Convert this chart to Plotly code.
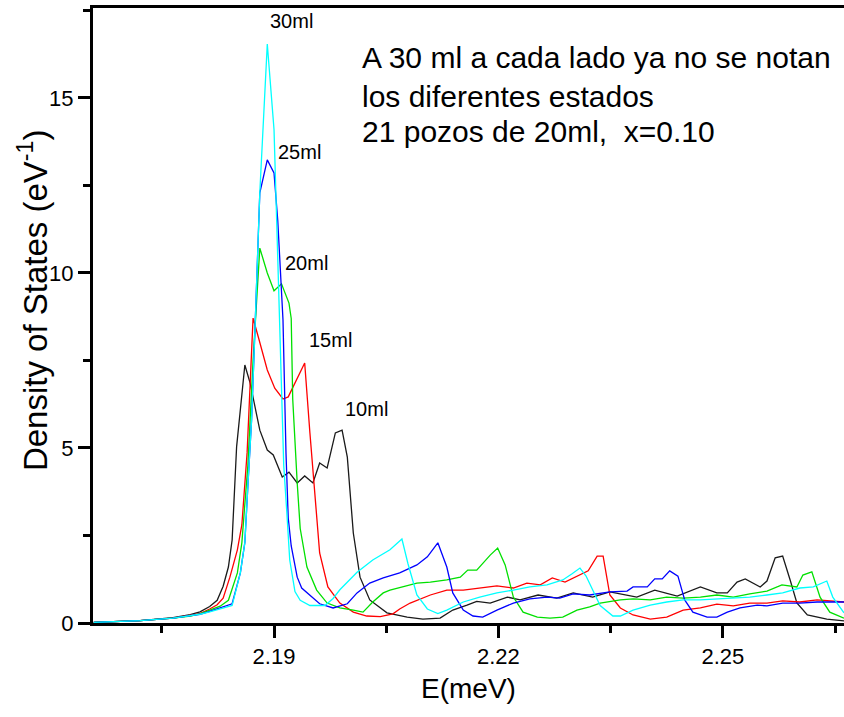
import plotly.graph_objects as go

# ---- data (E in meV, DOS in eV^-1) ----
E_10 = [2.1659, 2.1721, 2.1765, 2.1788, 2.1801, 2.1814, 2.1824, 2.1832, 2.1839, 2.1844,
        2.1850, 2.1861, 2.1868, 2.1875, 2.1881, 2.1891, 2.1899, 2.1911, 2.1920, 2.1931,
        2.1941, 2.1952, 2.1961, 2.1971, 2.1982, 2.1991, 2.1998, 2.2006, 2.2015, 2.2028,
        2.2051, 2.2078, 2.2099, 2.2122, 2.2139, 2.2158, 2.2171, 2.2189, 2.2212, 2.2229,
        2.2253, 2.2278, 2.2300, 2.2326, 2.2349, 2.2385, 2.2409, 2.2439, 2.2470, 2.2492,
        2.2506, 2.2519, 2.2530, 2.2550, 2.2559, 2.2570, 2.2580, 2.2590, 2.2599, 2.2613,
        2.2639, 2.2662]
DOS_10 = [0.02, 0.07, 0.15, 0.24, 0.32, 0.47, 0.65, 1.05, 1.6, 2.37,
          5.04, 7.37, 6.86, 6.17, 5.51, 4.94, 4.8, 4.17, 4.31, 4.0,
          4.2, 4.0, 4.57, 4.43, 5.43, 5.51, 4.74, 2.57, 1.31, 0.66,
          0.29, 0.17, 0.11, 0.14, 0.37, 0.51, 0.62, 0.57, 0.74, 0.66,
          0.8, 0.71, 0.86, 0.74, 0.89, 0.74, 0.94, 0.77, 1.03, 0.86,
          0.86, 1.17, 1.26, 1.03, 1.2, 1.86, 1.91, 1.23, 0.57, 0.23,
          0.11, 0.06]

E_15 = [2.1659, 2.1721, 2.1765, 2.1788, 2.1801, 2.1814, 2.1824, 2.1832, 2.1841, 2.1851,
        2.1857, 2.1864, 2.1872, 2.1879, 2.1891, 2.1901, 2.1912, 2.1919, 2.1928, 2.1941,
        2.1948, 2.1955, 2.1961, 2.1972, 2.1988, 2.2006, 2.2024, 2.2042, 2.2059, 2.2068,
        2.2082, 2.2109, 2.2131, 2.2153, 2.2175, 2.2198, 2.2220, 2.2238, 2.2256, 2.2272,
        2.2289, 2.2320, 2.2332, 2.2340, 2.2349, 2.2363, 2.2380, 2.2403, 2.2425, 2.2447,
        2.2470, 2.2492, 2.2514, 2.2536, 2.2559, 2.2580, 2.2603, 2.2626, 2.2662]
DOS_15 = [0.02, 0.07, 0.14, 0.21, 0.27, 0.4, 0.52, 0.71, 1.31, 2.09,
          2.8, 4.86, 8.71, 8.17, 7.23, 6.71, 6.4, 6.46, 6.86, 7.43,
          5.43, 3.51, 2.0, 1.03, 0.57, 0.31, 0.2, 0.18, 0.26, 0.4,
          0.57, 0.8, 0.94, 0.94, 1.0, 1.06, 1.0, 1.14, 1.09, 1.29,
          1.17, 1.49, 1.91, 1.91, 0.8, 0.43, 0.23, 0.11, 0.17, 0.37,
          0.43, 0.54, 0.49, 0.57, 0.57, 0.63, 0.6, 0.66, 0.6]

E_20 = [2.1659, 2.1721, 2.1765, 2.1788, 2.1801, 2.1814, 2.1828, 2.1839, 2.1851, 2.1857,
        2.1865, 2.1872, 2.1881, 2.1891, 2.1900, 2.1910, 2.1920, 2.1923, 2.1925, 2.1931,
        2.1935, 2.1944, 2.1957, 2.1971, 2.1988, 2.2006, 2.2019, 2.2032, 2.2046, 2.2055,
        2.2072, 2.2091, 2.2109, 2.2131, 2.2149, 2.2159, 2.2171, 2.2189, 2.2199, 2.2209,
        2.2220, 2.2233, 2.2252, 2.2269, 2.2286, 2.2305, 2.2322, 2.2336, 2.2363, 2.2380,
        2.2403, 2.2425, 2.2447, 2.2470, 2.2492, 2.2514, 2.2536, 2.2559, 2.2579, 2.2599,
        2.2607, 2.2619, 2.2630, 2.2643, 2.2662]
DOS_20 = [0.02, 0.07, 0.14, 0.2, 0.26, 0.36, 0.48, 0.65, 1.43, 2.29,
          4.5, 7.5, 10.71, 10.0, 9.49, 9.69, 9.14, 8.7, 6.4, 4.0,
          2.7, 1.6, 0.94, 0.57, 0.43, 0.37, 0.31, 0.6, 0.86, 0.94,
          1.03, 1.14, 1.17, 1.23, 1.31, 1.51, 1.51, 1.94, 2.14, 1.66,
          0.74, 0.31, 0.17, 0.14, 0.17, 0.37, 0.46, 0.57, 0.66, 0.69,
          0.66, 0.74, 0.71, 0.74, 0.8, 0.74, 0.83, 0.91, 1.09, 1.03,
          1.37, 1.46, 0.74, 0.31, 0.14]

E_25 = [2.1659, 2.1721, 2.1765, 2.1788, 2.1801, 2.1814, 2.1828, 2.1844, 2.1855, 2.1861,
        2.1865, 2.1870, 2.1875, 2.1881, 2.1891, 2.1900, 2.1905, 2.1910, 2.1912, 2.1916,
        2.1919, 2.1923, 2.1927, 2.1931, 2.1937, 2.1948, 2.1961, 2.1979, 2.1998, 2.2011,
        2.2028, 2.2046, 2.2068, 2.2091, 2.2105, 2.2119, 2.2131, 2.2139, 2.2153, 2.2166,
        2.2179, 2.2198, 2.2220, 2.2242, 2.2265, 2.2282, 2.2300, 2.2322, 2.2349, 2.2372,
        2.2380, 2.2399, 2.2409, 2.2419, 2.2429, 2.2440, 2.2449, 2.2460, 2.2479, 2.2492,
        2.2506, 2.2523, 2.2546, 2.2559, 2.2580, 2.2603, 2.2626, 2.2662]
DOS_25 = [0.02, 0.07, 0.14, 0.2, 0.25, 0.33, 0.43, 0.55, 1.43, 2.3,
          3.9, 5.8, 8.66, 12.29, 13.23, 12.86, 11.5, 9.7, 8.66, 4.86,
          3.0, 2.2, 1.7, 1.31, 1.0, 0.8, 0.55, 0.43, 0.55, 0.86,
          1.14, 1.29, 1.43, 1.66, 1.89, 2.29, 1.6, 0.86, 0.37, 0.2,
          0.17, 0.37, 0.57, 0.69, 0.74, 0.71, 0.83, 0.8, 0.89, 0.91,
          1.03, 1.03, 1.26, 1.26, 1.49, 1.34, 0.66, 0.31, 0.17, 0.17,
          0.31, 0.43, 0.51, 0.49, 0.57, 0.57, 0.6, 0.6]

E_30 = [2.1659, 2.1721, 2.1765, 2.1788, 2.1801, 2.1814, 2.1828, 2.1844, 2.1855, 2.1861,
        2.1865, 2.1870, 2.1875, 2.1881, 2.1891, 2.1900, 2.1908, 2.1913, 2.1917, 2.1921,
        2.1928, 2.1935, 2.1948, 2.1968, 2.1979, 2.1988, 2.2011, 2.2032, 2.2055, 2.2071,
        2.2079, 2.2091, 2.2105, 2.2119, 2.2131, 2.2153, 2.2175, 2.2198, 2.2220, 2.2242,
        2.2265, 2.2286, 2.2298, 2.2309, 2.2317, 2.2336, 2.2353, 2.2363, 2.2380, 2.2403,
        2.2425, 2.2447, 2.2470, 2.2492, 2.2514, 2.2536, 2.2559, 2.2580, 2.2603, 2.2621,
        2.2639, 2.2647, 2.2662]
DOS_30 = [0.02, 0.07, 0.14, 0.2, 0.25, 0.32, 0.4, 0.5, 1.43, 2.3,
          3.9, 5.8, 8.66, 12.3, 16.54, 14.1, 8.2, 4.5, 3.2, 1.8,
          0.9, 0.65, 0.5, 0.5, 0.7, 0.95, 1.45, 1.8, 2.09, 2.4,
          1.7, 0.8, 0.4, 0.27, 0.37, 0.6, 0.74, 0.86, 0.94, 1.03,
          1.09, 1.23, 1.4, 1.57, 1.35, 0.5, 0.2, 0.2, 0.37, 0.51,
          0.6, 0.66, 0.66, 0.69, 0.71, 0.74, 0.8, 0.86, 1.0, 1.03,
          1.2, 0.74, 0.29]

series_names = ["10ml", "15ml", "20ml", "25ml", "30ml"]
series_colors = ["#1a1a1a", "#ff0000", "#00e000", "#0000ff", "#00ffff"]
series_E = [E_10, E_15, E_20, E_25, E_30]
series_DOS = [DOS_10, DOS_15, DOS_20, DOS_25, DOS_30]

x_tick0, x_dtick, x_minor = 2.19, 0.03, 0.015
y_tick0, y_dtick, y_minor = 0, 5, 2.5

FONT = "Liberation Sans, Arial, sans-serif"

fig = go.Figure()
for name, col, ex, dy in zip(series_names, series_colors, series_E, series_DOS):
    fig.add_trace(go.Scatter(x=ex, y=dy, mode="lines", name=name,
                             line=dict(color=col, width=1.3), showlegend=False))

fig.update_layout(
    width=844, height=717,
    margin=dict(l=93, r=0, t=8, b=94, autoexpand=False),
    paper_bgcolor="white", plot_bgcolor="white",
    font=dict(family=FONT, color="black"),
)

fig.update_xaxes(
    range=[2.1658, 2.2662], showgrid=False, zeroline=False,
    showline=True, linecolor="#000000", linewidth=3, mirror=True,
    ticks="outside", ticklen=12, tickwidth=3, tickcolor="#000000",
    tick0=x_tick0, dtick=x_dtick, tickformat=".2f",
    tickfont=dict(size=22, family=FONT),
    minor=dict(ticks="outside", ticklen=7, tickwidth=3, tickcolor="#000000",
               dtick=x_minor),
    title=dict(text="E(meV)", font=dict(size=28, family=FONT), standoff=10),
)
fig.update_yaxes(
    range=[0, 17.57], showgrid=False, zeroline=False,
    showline=True, linecolor="#000000", linewidth=3,
    ticks="outside", ticklen=12, tickwidth=3, tickcolor="#000000",
    tick0=y_tick0, dtick=y_dtick,
    tickfont=dict(size=22, family=FONT),
    minor=dict(ticks="outside", ticklen=7, tickwidth=3, tickcolor="#000000",
               dtick=y_minor),
)

# y-axis title placed as a rotated annotation for exact placement
fig.add_annotation(text="Density of States (eV<sup>-1</sup>)", xref="paper", yref="paper",
                   x=-0.0799, y=0.525, xanchor="center", yanchor="middle", textangle=-90,
                   showarrow=False, font=dict(size=33, family=FONT, color="black"))

labels = [("30ml", 0.233, 0.979), ("25ml", 0.2437, 0.766), ("20ml", 0.253, 0.585),
          ("15ml", 0.285, 0.460), ("10ml", 0.333, 0.348)]
for txt, xp, yp in labels:
    fig.add_annotation(text=txt, xref="paper", yref="paper", x=xp, y=yp,
                       xanchor="left", yanchor="middle", showarrow=False,
                       font=dict(size=20, family=FONT, color="black"))

note_lines = ["A 30 ml a cada lado ya no se notan", "los diferentes estados",
              "21 pozos de 20ml,  x=0.10"]
for txt, yp in zip(note_lines, [0.9187, 0.8569, 0.7984]):
    fig.add_annotation(text=txt.replace("  ", "&nbsp; "), xref="paper", yref="paper", x=0.3555, y=yp,
                       xanchor="left", yanchor="middle", showarrow=False,
                       font=dict(size=30, family=FONT, color="black"))

fig.write_html(
    "out.html",
    config={"displayModeBar": False},
    post_script="document.body.style.margin='0';document.body.style.overflow='hidden';",
)
